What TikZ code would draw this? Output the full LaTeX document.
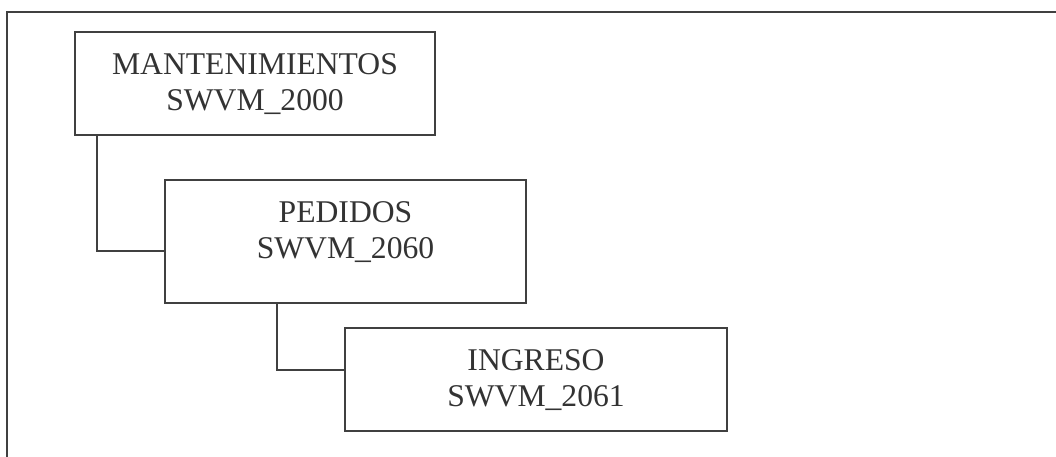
\documentclass[tikz,border=0pt]{standalone}
\usepackage{fontspec}
\setmainfont{Liberation Serif}
\usepackage{tikz}

\begin{document}
\begin{tikzpicture}[
  modulo/.style={draw=black!75, line width=0.6pt, rectangle, minimum width=3.6cm,
    minimum height=1.03cm, inner sep=0pt},
  rotulo/.style={anchor=north, align=center, inner sep=0pt, yshift=-0.22cm,
    text=black!80, font=\fontsize{9}{10.2}\selectfont},
  enlace/.style={draw=black!75, line width=0.6pt}]
  \useasboundingbox (0,0) rectangle (10.56,-4.57);
  % marco exterior
  \draw[enlace] (10.56,-0.12) -| (0.07,-4.57);
  \node[modulo, label={[rotulo]north:MANTENIMIENTOS\\ SWVM\_2000}] (mant) at (2.55,-0.835) {};
  \node[modulo, minimum width=3.61cm, minimum height=1.23cm,
    label={[rotulo]north:PEDIDOS\\ SWVM\_2060}] (ped) at (3.455,-2.415) {};
  \node[modulo, minimum width=3.82cm, label={[rotulo]north:INGRESO\\ SWVM\_2061}] (ing) at (5.36,-3.795) {};
  \draw[enlace] ([xshift=0.23cm]mant.south west) |- ([yshift=-0.095cm]ped.west);
  \draw[enlace] ([xshift=1.13cm]ped.south west) |- ([yshift=0.095cm]ing.west);
\end{tikzpicture}
\end{document}
